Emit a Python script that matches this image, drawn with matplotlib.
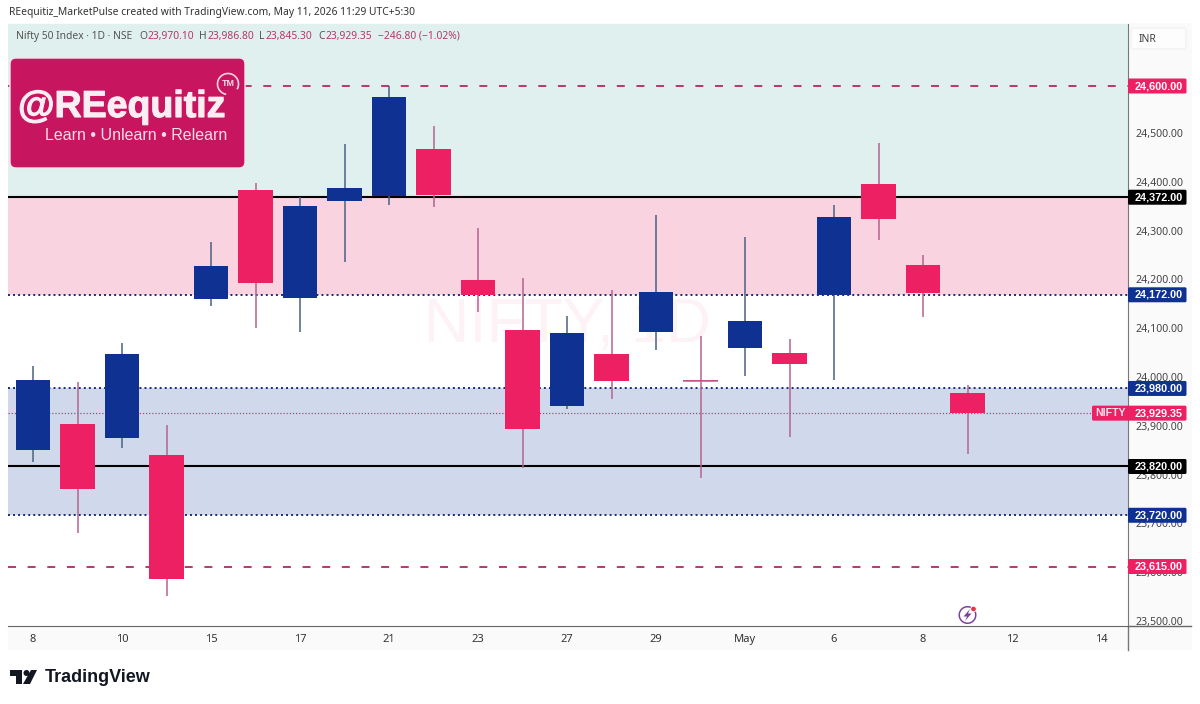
import numpy as np
import matplotlib
matplotlib.use("Agg")
import matplotlib.pyplot as plt
import matplotlib.patheffects as pe
from matplotlib.patches import Rectangle, FancyBboxPatch, Polygon, Circle, Wedge, Arc
from matplotlib.transforms import ScaledTranslation

# daily candles, Nifty 50
opens = [23854, 23907, 23878, 23844, 24163, 24387, 24165, 24364, 24375, 24471, 24202,
         24100, 23944, 24051, 24096, 23998, 24063, 24053, 24172, 24399, 24233, 23970.10]
highs = [24026, 23993, 24073, 23905, 24280, 24401, 24372, 24481, 24600, 24518, 24309,
         24206, 24128, 24182, 24336, 24087, 24290, 24081, 24356, 24483, 24254, 23986.80]
lows = [23829, 23684, 23858, 23554, 24149, 24104, 24096, 24239, 24356, 24352, 24137,
        23817, 23938, 23958, 24059, 23796, 24006, 23880, 23997, 24284, 24126, 23845.30]
closes = [23997, 23774, 24051, 23589, 24231, 24196, 24354, 24391, 24577, 24377, 24172,
          23897, 24094, 23995, 24178, 23996, 24118, 24030, 24331, 24327, 24176, 23929.35]

x_ticks = [0, 2, 4, 6, 8, 10, 12, 14, 16, 18, 20, 22, 24]
x_labels = ["8", "10", "15", "17", "21", "23", "27", "29", "May", "6", "8", "12", "14"]
y_ticks = [23500, 23600, 23700, 23800, 23900, 24000, 24100, 24200, 24300, 24400, 24500]

dashed_levels = [24600, 23615]
solid_levels = [24372, 23820]
dotted_levels = [24172, 23980, 23720]
last_price = 23929.35

PINK = "#ed2064"
BLUE = "#0e3192"
W, H = 1200, 704

plt.rcParams["font.family"] = ["Noto Sans", "DejaVu Sans"]
fig = plt.figure(figsize=(W / 100, H / 100), dpi=100, facecolor="white")

# strip behind the price and time scales
bg = fig.add_axes([0, 0, 1, 1], zorder=0)
bg.set_xlim(0, W)
bg.set_ylim(H, 0)
bg.axis("off")
bg.add_patch(Rectangle((8, 23), 1184, 627, fc="#fafafa", ec="none"))
bg.plot([1127.5, 1127.5], [626, 650], color="#777777", lw=1)
bg.plot([1127.5, 1191], [626, 626], color="#666666", lw=1)

ax = fig.add_axes([8 / W, 1 - 626 / H, (1127.5 - 8) / W, (626 - 24) / H], zorder=1)
ax.set_xlim((8 - 33) / 44.5, (1127.5 - 33) / 44.5)
ppu = 480.5 / 985
ax.set_ylim(23615 - (626 - 566.5) / ppu, 24600 + (86 - 24) / ppu)
ax.set_facecolor("white")

# shaded zones
ax.axhspan(24372, ax.get_ylim()[1], fc="#dff0ee", ec="none", zorder=0)
ax.axhspan(24172, 24372, fc="#fad3e0", ec="none", zorder=0)
ax.axhspan(23720, 23980, fc="#d0d9ec", ec="none", zorder=0)

ax.text(0.5, 0.5, "NIFTY, 1D", transform=ax.transAxes, fontsize=45, color="#fdf2f6",
        ha="center", va="center", zorder=0.5, family="Liberation Sans")

for lvl in dashed_levels:
    ax.axhline(lvl, color="#b43a6e", lw=1.4, dashes=(4.1, 6), zorder=1)
for lvl in solid_levels:
    ax.axhline(lvl, color="black", lw=1.5, zorder=1)
for lvl in dotted_levels:
    ax.axhline(lvl, color="#1a2a78", lw=1.4, dashes=(1, 1.6), zorder=1)
ax.axhline(last_price, color="#e0306f", lw=0.9, dashes=(1, 1.5), zorder=1)

idx = np.arange(len(opens))
o, h, l, c = map(np.array, (opens, highs, lows, closes))
up = c >= o
wick_colors = np.where(up, "#4a6185", "#b4648e")
ax.vlines(idx, l, h, colors=wick_colors, lw=1.1, zorder=2)
body_colors = np.where(up, BLUE, PINK)
ax.bar(idx, np.maximum(np.abs(c - o), 0.1), bottom=np.minimum(o, c), width=0.78,
       color=body_colors, zorder=3)
# the one nearly flat candle still shows as a thin bar
doji = np.abs(c - o) < 5
ax.hlines(c[doji], idx[doji] - 0.39, idx[doji] + 0.39, colors="#b4648e", lw=1.1, zorder=3)

ax.set_xticks(x_ticks)
ax.set_xticklabels(x_labels, fontsize=8, color="#333333")
ax.get_xticklabels()[8].set_fontweight("bold")
ax.yaxis.tick_right()
ax.set_yticks(y_ticks)
ax.set_yticklabels([f"{v:,.2f}" for v in y_ticks], fontsize=7.6, color="#444444")
ax.tick_params(axis="both", length=0)
ax.tick_params(axis="x", pad=6)
ax.tick_params(axis="y", pad=6)
# nudge the scale labels up a little
for lab in ax.get_yticklabels():
    lab.set_transform(lab.get_transform() + ScaledTranslation(0, 1.2 / 72, fig.dpi_scale_trans))
for side in ("top", "left"):
    ax.spines[side].set_visible(False)
ax.spines["right"].set_color("#777777")
ax.spines["bottom"].set_color("#666666")

top = fig.add_axes([0, 0, 1, 1], zorder=5)
top.set_xlim(0, W)
top.set_ylim(H, 0)
top.axis("off")


# price tags on the scale
def price_tag(price, color, name=None):
    y_px = H - ax.transData.transform((0, price))[1]
    if name:
        top.add_patch(FancyBboxPatch((1092, y_px - 7.5), 38, 15, boxstyle="round,pad=0,rounding_size=1.5",
                                     fc=color, ec="none"))
        top.text(1110, y_px, name, color="#fbe3ec", fontsize=7.6, fontweight="bold", ha="center", va="center",
                 family="Liberation Sans")
    top.add_patch(FancyBboxPatch((1128, y_px - 7.5), 58.5, 15, boxstyle="round,pad=0,rounding_size=1.5",
                                 fc=color, ec="none"))
    top.text(1158.7, y_px, f"{price:,.2f}", color="white", fontsize=7.8, fontweight="bold",
             ha="center", va="center", family="Liberation Sans")


for lvl in dashed_levels:
    price_tag(lvl, PINK)
for lvl in solid_levels:
    price_tag(lvl, "black")
for lvl in dotted_levels:
    price_tag(lvl, BLUE)
price_tag(last_price, PINK, name="NIFTY")

# header and legend line
top.text(9, 13, "REequitiz_MarketPulse created with TradingView.com, May 11, 2026 11:29 UTC+5:30",
         fontsize=7.4, color="#333333", va="center")
legend_parts = [(16, "Nifty 50 Index · 1D · NSE", "#555555"), (139, "O", "#555555"), (147, "23,970.10", "#b5386c"),
                (199, "H", "#555555"), (207, "23,986.80", "#b5386c"), (259, "L", "#555555"), (265, "23,845.30", "#b5386c"),
                (318, "C", "#555555"), (325, "23,929.35", "#b5386c"), (378, "−246.80 (−1.02%)", "#b5386c")]
for px, txt, col in legend_parts:
    top.text(px, 36.5, txt, fontsize=7.4, color=col, va="center")

# currency button
top.add_patch(FancyBboxPatch((1131, 28), 55, 21, boxstyle="round,pad=0,rounding_size=3", fc="#fdfdfd", ec="#f0f0f0", lw=0.8))
top.text(1139, 39, "INR", fontsize=7.5, color="#444444", va="center")

# brand badge
top.add_patch(FancyBboxPatch((10, 58), 235, 110, boxstyle="round,pad=0,rounding_size=6", fc="#c8155f", ec="#f4e4ea", lw=1))
top.text(18, 107, "@REequitiz", fontsize=27, fontweight="bold", color="#fbeef3", va="center",
         family="Liberation Sans", path_effects=[pe.withStroke(linewidth=0.8, foreground="#fbeef3")])
top.text(45, 136, "Learn • Unlearn • Relearn", fontsize=11.5, color="#f6dce7", va="center",
         family="Liberation Sans")
top.add_patch(Arc((228, 84), 21, 21, theta1=100, theta2=390, ec="#f3d3e0", lw=1.2))
top.text(228, 84, "TM", fontsize=6.5, fontweight="bold", color="#f6dce7", ha="center", va="center",
         family="Liberation Sans")

# alert marker
top.add_patch(Wedge((967.5, 615), 9, 0, 360, width=1.5, fc="#7b3f9e", ec="none"))
top.add_patch(Polygon([(970, 609), (963.5, 616.5), (967, 616.5), (965, 621), (971.5, 613.5), (968, 613.5)],
                      fc="#7b3f9e", ec="none"))
top.add_patch(Circle((973.5, 609), 2.8, fc="#e0364a", ec="white", lw=0.6))

# TradingView mark and wordmark
logo_col = "#131722"
top.add_patch(Polygon([(10, 670), (22, 670), (22, 684), (16, 684), (16, 676), (10, 676)], fc=logo_col, ec="none"))
top.add_patch(Circle((26.5, 673), 3, fc=logo_col, ec="none"))
top.add_patch(Polygon([(31, 670), (37, 670), (30, 684), (23, 684)], fc=logo_col, ec="none"))
top.text(44.5, 677, "TradingView", fontsize=13, fontweight="bold", color=logo_col, va="center",
         family="Liberation Sans")

fig.savefig("out.png", dpi=100)
